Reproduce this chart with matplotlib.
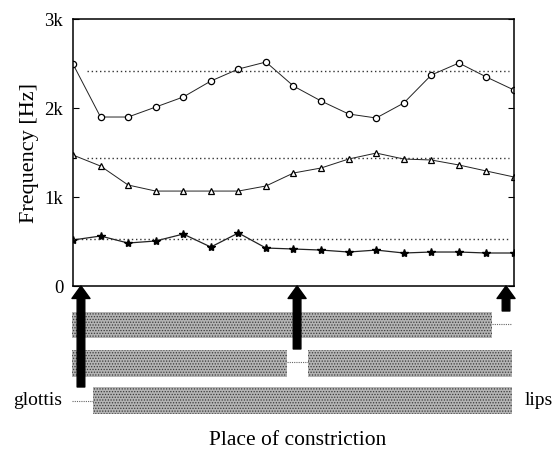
import matplotlib.pyplot as plt
import numpy as np

plt.rcParams['font.family'] = ['Liberation Serif', 'DejaVu Serif']
plt.rcParams['hatch.linewidth'] = 0.6

# Formant values (Hz), 17 constriction positions
pos = np.arange(17)
f3 = [2494, 1899, 1899, 2011, 2124, 2303, 2438, 2517, 2247, 2079, 1933, 1888,
      2056, 2371, 2506, 2348, 2202]
f2 = [1472, 1348, 1135, 1067, 1067, 1067, 1067, 1124, 1270, 1326, 1427, 1494,
      1427, 1416, 1360, 1292, 1225]
f1 = [517, 562, 483, 506, 584, 438, 596, 427, 416, 404, 382, 404, 371, 382,
      382, 371, 371]

# reference (neutral tube) formants
ref_f = [2416, 1438, 528]
ref_start = [0.5, 0.5, 0.0]
ref_end = [15.8, 15.8, 15.8]

yticks = [0, 1000, 2000, 3000]
ytick_labels = ["0", "1k", "2k", "3k"]

# tube schematic below the plot: (x0, x1, y_top, y_bottom) in position units / pixels
tube_bars = [(-0.04, 15.2, 26, 52),
             (-0.04, 7.76, 64, 91),
             (8.53, 15.93, 64, 91),
             (0.73, 15.93, 101, 128)]
tube_dots = [(15.2, 15.9, 38), (7.76, 8.53, 76), (-0.04, 0.73, 115)]
arrow_x = [0.29, 8.13, 15.71]
arrow_len = [101, 63, 25]

fig = plt.figure(figsize=(5.52, 4.5), dpi=100)
ax = fig.add_axes([0.1322, 0.3644, 0.799, 0.5933])

ax.plot(pos, f3, '-', color='#222222', lw=0.7, marker='o', ms=4.5,
        mfc='white', mec='black', mew=0.9)
ax.plot(pos, f2, '-', color='#222222', lw=0.7, marker='^', ms=5,
        mfc='white', mec='black', mew=0.9)
ax.plot(pos, f1, '-', color='#222222', lw=0.9, marker='*', ms=6,
        mfc='black', mec='black')
for f, a, b in zip(ref_f, ref_start, ref_end):
    ax.plot([a, b], [f, f], linestyle=(0, (1, 2)), color='#333333', lw=1.0)

ax.set_xlim(0, 16)
ax.set_ylim(0, 3000)
ax.set_yticks(yticks)
ax.set_yticklabels(ytick_labels, fontsize=13.5)
ax.set_xticks([])
ax.tick_params(axis='y', direction='in', length=4, right=True, pad=7)
for s in ax.spines.values():
    s.set_linewidth(1.1)
ax.set_ylabel("Frequency [Hz]", fontsize=16, labelpad=4)

# schematic of the tube
ax2 = fig.add_axes([0.1322, 0.0667, 0.799, 0.2978])
ax2.set_xlim(0, 16)
ax2.set_ylim(134, 0)
ax2.axis('off')
for x0, x1, yt, yb in tube_bars:
    ax2.add_patch(plt.Rectangle((x0, yt), x1 - x0, yb - yt, facecolor='#b4b4b4',
                                edgecolor='#3a3a3a', hatch='......', lw=0,
                                clip_on=False))
for x0, x1, y in tube_dots:
    ax2.plot([x0, x1], [y, y], linestyle=(0, (1, 1)), color='#666666', lw=0.8,
             clip_on=False)
for x, ln in zip(arrow_x, arrow_len):
    ax2.annotate('', xy=(x, 0), xytext=(x, ln),
                 arrowprops=dict(arrowstyle='simple,head_length=0.9,head_width=1.3,tail_width=0.55',
                                 color='black', shrinkA=0, shrinkB=0),
                 annotation_clip=False)

fig.text(0.024, 0.109, "glottis", fontsize=14, va='center', ha='left')
fig.text(0.951, 0.109, "lips", fontsize=14, va='center', ha='left')
fig.text(0.54, 0.022, "Place of constriction", fontsize=15.5, va='center', ha='center')

fig.savefig("out.png", dpi=100)
